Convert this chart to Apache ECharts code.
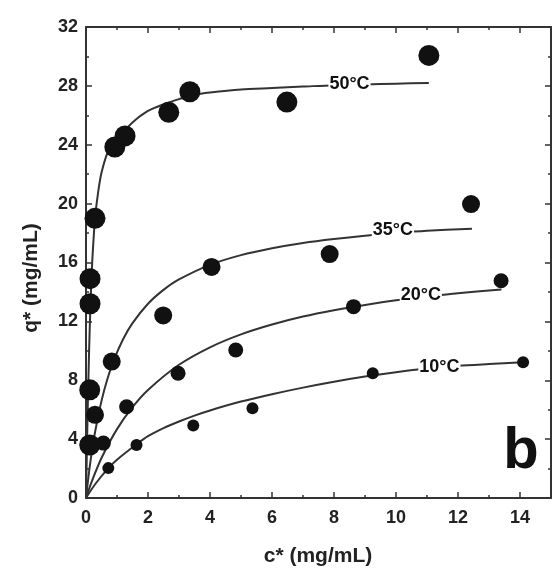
<!DOCTYPE html>
<html>
<head>
<meta charset="utf-8">
<script src="https://cdn.jsdelivr.net/npm/echarts@6/dist/echarts.min.js"></script>
<style>html,body{margin:0;padding:0;background:#fff;}#c{width:552px;height:574px;}</style>
</head>
<body>
<div id="c"></div>
<script>
// ---- data ----
var xTicks = [0, 2, 4, 6, 8, 10, 12, 14];
var yTicks = [0, 4, 8, 12, 16, 20, 24, 28, 32];

// measured points
var p50x = [0.12, 0.12, 0.13, 0.13, 0.29, 0.93, 1.26, 2.67, 3.35, 6.48, 11.06];
var p50y = [3.6, 7.35, 13.2, 14.9, 19.0, 23.85, 24.6, 26.2, 27.6, 26.9, 30.07];
var p35x = [0.29, 0.83, 2.49, 4.05, 7.86, 12.42];
var p35y = [5.65, 9.27, 12.4, 15.7, 16.57, 19.97];
var p20x = [0.56, 1.31, 2.97, 4.83, 8.63, 13.39];
var p20y = [3.73, 6.2, 8.48, 10.06, 13.0, 14.76];
var p10x = [0.72, 1.63, 3.46, 5.37, 9.25, 14.1];
var p10y = [2.03, 3.6, 4.93, 6.1, 8.48, 9.23];

// fitted curves
var f50x = [0, 0.05, 0.1, 0.15, 0.2, 0.25, 0.3, 0.4, 0.5, 0.7, 0.93, 1.2, 1.6, 2, 2.5, 3, 3.5, 4, 5, 6, 7, 8, 9, 10, 11.06];
var f50y = [0, 5.5, 10, 13.5, 16, 17.8, 19.2, 20.9, 22.1, 23.5, 24.4, 24.9, 25.7, 26.3, 26.75, 27.1, 27.4, 27.55, 27.75, 27.85, 27.95, 28.05, 28.1, 28.15, 28.2];
var f35x = [0, 0.1, 0.2, 0.3, 0.5, 0.7, 0.9, 1.2, 1.5, 2, 2.5, 3, 4, 5, 6, 7, 8, 9, 10, 11, 12.45];
var f35y = [0, 1.8, 3.3, 4.57, 6.6, 8.15, 9.38, 10.8, 11.88, 13.2, 14.14, 14.85, 15.84, 16.5, 16.97, 17.33, 17.6, 17.82, 18.0, 18.15, 18.3];
var f20x = [0, 0.2, 0.5, 1, 1.5, 2, 3, 4, 5, 6, 7, 8, 9, 10, 11, 12, 13.4];
var f20y = [0, 1.2, 2.72, 4.68, 6.17, 7.34, 9.05, 10.24, 11.12, 11.79, 12.33, 12.76, 13.12, 13.43, 13.68, 13.91, 14.17];
var f10x = [0, 0.3, 0.72, 1, 1.63, 2, 2.5, 3, 3.5, 4, 5, 6, 7, 8, 9, 10, 11, 12, 13, 14.1];
var f10y = [0, 0.95, 2.03, 2.6, 3.65, 4.2, 4.75, 5.2, 5.6, 5.95, 6.55, 7.05, 7.5, 7.9, 8.25, 8.55, 8.8, 8.98, 9.1, 9.22];

var curveLabels = ['50°C', '35°C', '20°C', '10°C'];
var labelX = [8.5, 9.9, 10.8, 11.4];
var labelY = [28.15, 18.2, 13.8, 8.93];

function zip(a, b) { return a.map(function (v, i) { return [v, b[i]]; }); }

var axisColor = '#333';
var fontFam = '"Liberation Sans", Arial, sans-serif';

function xAx(pos, showLabel) {
  return {
    type: 'value', position: pos, min: 0, max: 15, interval: 2,
    axisLine: { show: true, onZero: false, lineStyle: { color: axisColor, width: 2 } },
    axisTick: { show: true, inside: true, length: 6, lineStyle: { color: axisColor, width: 1.5 } },
    minorTick: { show: true, splitNumber: 2, length: 3, lineStyle: { color: axisColor, width: 1.5 } },
    splitLine: { show: false },
    axisLabel: {
      show: showLabel, margin: 11, color: '#222', fontSize: 18, fontWeight: 'bold', fontFamily: fontFam,
      showMaxLabel: false,
      formatter: function (v) { return xTicks.indexOf(v) >= 0 ? String(v) : ''; }
    }
  };
}
function yAx(pos, showLabel) {
  return {
    type: 'value', position: pos, min: 0, max: 32, interval: 4,
    axisLine: { show: true, onZero: false, lineStyle: { color: axisColor, width: 2 } },
    axisTick: { show: true, inside: true, length: 6, lineStyle: { color: axisColor, width: 1.5 } },
    minorTick: { show: true, splitNumber: 2, length: 3, lineStyle: { color: axisColor, width: 1.5 } },
    splitLine: { show: false },
    axisLabel: {
      show: showLabel, margin: 8, color: '#222', fontSize: 18, fontWeight: 'bold', fontFamily: fontFam,
      formatter: function (v) { return yTicks.indexOf(v) >= 0 ? String(v) : ''; }
    }
  };
}

function curve(x, y) {
  return { type: 'line', xAxisIndex: 0, yAxisIndex: 0, data: zip(x, y), smooth: 0.3, symbol: 'none',
    lineStyle: { color: '#333', width: 2 }, z: 2, silent: true };
}
function pts(x, y, size) {
  return { type: 'scatter', xAxisIndex: 0, yAxisIndex: 0, data: zip(x, y), symbolSize: size,
    itemStyle: { color: '#111', opacity: 1 }, z: 3, silent: true };
}

var labelData = curveLabels.map(function (t, i) { return [labelX[i], labelY[i], t]; });

var chart = echarts.init(document.getElementById('c'), null, { renderer: 'canvas' });
chart.setOption({
  animation: false,
  backgroundColor: '#fff',
  grid: { left: 86, right: 1, top: 27, bottom: 76, containLabel: false },
  xAxis: [xAx('bottom', true), xAx('top', false)],
  yAxis: [yAx('left', true), yAx('right', false)],
  series: [
    curve(f50x, f50y), curve(f35x, f35y), curve(f20x, f20y), curve(f10x, f10y),
    pts(p50x, p50y, 21), pts(p35x, p35y, 18), pts(p20x, p20y, 15), pts(p10x, p10y, 12),
    {
      type: 'scatter', data: labelData, symbolSize: 1, itemStyle: { color: '#fff', opacity: 1 }, z: 5, silent: true,
      label: {
        show: true, position: 'inside', formatter: function (p) { return p.value[2]; }, opacity: 1,
        color: '#111', fontSize: 18, fontWeight: 'bold', fontFamily: fontFam, backgroundColor: '#fff', padding: [0, 1]
      }
    }
  ],
  graphic: [
    { type: 'text', x: 318, y: 556, style: { text: 'c* (mg/mL)', font: 'bold 21px ' + fontFam, fill: '#222', textAlign: 'center', textVerticalAlign: 'middle' } },
    { type: 'text', x: 31, y: 278, rotation: Math.PI / 2, style: { text: 'q* (mg/mL)', font: 'bold 21px ' + fontFam, fill: '#222', textAlign: 'center', textVerticalAlign: 'middle' } },
    { type: 'text', x: 521, y: 452, style: { text: 'b', font: 'bold 58px ' + fontFam, fill: '#111', textAlign: 'center', textVerticalAlign: 'middle' } }
  ]
});
</script>
</body>
</html>
